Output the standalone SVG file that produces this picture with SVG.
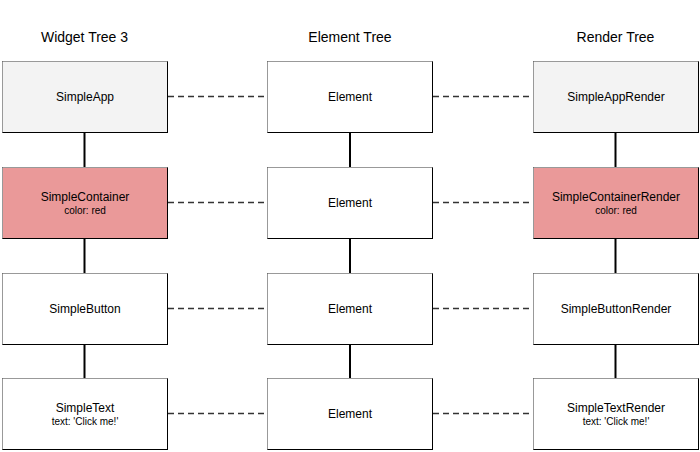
<svg xmlns="http://www.w3.org/2000/svg" width="700" height="452" viewBox="0 0 700 452">
<style>
.box{stroke:#000;stroke-width:1}
.edge{fill:none;stroke:#999;stroke-width:1}
.w{fill:#fff}.g{fill:#f3f3f3}.r{fill:#ea9999}
text{font-family:"Liberation Sans",Arial,sans-serif;fill:#000;text-anchor:middle}
.t{font-size:14px}.m{font-size:12px}.s{font-size:10px}
.solid{stroke:#000;stroke-width:2}
.dash{stroke:#333;stroke-width:1.5;stroke-dasharray:6,4}
</style>
<rect width="700" height="452" fill="#fff"/>
<g id="titles">
<text class="t" x="84.5" y="42">Widget Tree 3</text>
<text class="t" x="350" y="42">Element Tree</text>
<text class="t" x="615.5" y="42">Render Tree</text>
</g>
<g id="connectors">
<line class="solid" x1="84.5" y1="132" x2="84.5" y2="167"/>
<line class="solid" x1="84.5" y1="238" x2="84.5" y2="273"/>
<line class="solid" x1="84.5" y1="344" x2="84.5" y2="378"/>
<line class="solid" x1="350" y1="132" x2="350" y2="167"/>
<line class="solid" x1="350" y1="238" x2="350" y2="273"/>
<line class="solid" x1="350" y1="344" x2="350" y2="378"/>
<line class="solid" x1="615.5" y1="132" x2="615.5" y2="167"/>
<line class="solid" x1="615.5" y1="238" x2="615.5" y2="273"/>
<line class="solid" x1="615.5" y1="344" x2="615.5" y2="378"/>
<line class="dash" x1="168" y1="96.5" x2="267" y2="96.5"/>
<line class="dash" x1="433" y1="96.5" x2="533" y2="96.5"/>
<line class="dash" x1="168" y1="202.5" x2="267" y2="202.5"/>
<line class="dash" x1="433" y1="202.5" x2="533" y2="202.5"/>
<line class="dash" x1="168" y1="308.5" x2="267" y2="308.5"/>
<line class="dash" x1="433" y1="308.5" x2="533" y2="308.5"/>
<line class="dash" x1="168" y1="413.5" x2="267" y2="413.5"/>
<line class="dash" x1="433" y1="413.5" x2="533" y2="413.5"/>
</g>
<g id="simpleapp">
<rect class="box g" x="2.5" y="61.5" width="165" height="71"/>
<path class="edge" d="M2.5,132.5V61.5H167.5"/>
<text class="m" x="85" y="101">SimpleApp</text>
</g>
<g id="element1">
<rect class="box w" x="267.5" y="61.5" width="165" height="71"/>
<path class="edge" d="M267.5,132.5V61.5H432.5"/>
<text class="m" x="350" y="101">Element</text>
</g>
<g id="simpleapprender">
<rect class="box g" x="533.5" y="61.5" width="165" height="71"/>
<path class="edge" d="M533.5,132.5V61.5H698.5"/>
<text class="m" x="616" y="101">SimpleAppRender</text>
</g>
<g id="simplecontainer">
<rect class="box r" x="2.5" y="167.5" width="165" height="71"/>
<path class="edge" d="M2.5,238.5V167.5H167.5"/>
<text class="m" x="85" y="201">SimpleContainer</text>
<text class="s" x="85" y="214">color: red</text>
</g>
<g id="element2">
<rect class="box w" x="267.5" y="167.5" width="165" height="71"/>
<path class="edge" d="M267.5,238.5V167.5H432.5"/>
<text class="m" x="350" y="207">Element</text>
</g>
<g id="simplecontainerrender">
<rect class="box r" x="533.5" y="167.5" width="165" height="71"/>
<path class="edge" d="M533.5,238.5V167.5H698.5"/>
<text class="m" x="616" y="201">SimpleContainerRender</text>
<text class="s" x="616" y="214">color: red</text>
</g>
<g id="simplebutton">
<rect class="box w" x="2.5" y="273.5" width="165" height="71"/>
<path class="edge" d="M2.5,344.5V273.5H167.5"/>
<text class="m" x="85" y="313">SimpleButton</text>
</g>
<g id="element3">
<rect class="box w" x="267.5" y="273.5" width="165" height="71"/>
<path class="edge" d="M267.5,344.5V273.5H432.5"/>
<text class="m" x="350" y="313">Element</text>
</g>
<g id="simplebuttonrender">
<rect class="box w" x="533.5" y="273.5" width="165" height="71"/>
<path class="edge" d="M533.5,344.5V273.5H698.5"/>
<text class="m" x="616" y="313">SimpleButtonRender</text>
</g>
<g id="simpletext">
<rect class="box w" x="2.5" y="378.5" width="165" height="71"/>
<path class="edge" d="M2.5,449.5V378.5H167.5"/>
<text class="m" x="85" y="412">SimpleText</text>
<text class="s" x="85" y="425">text: 'Click me!'</text>
</g>
<g id="element4">
<rect class="box w" x="267.5" y="378.5" width="165" height="71"/>
<path class="edge" d="M267.5,449.5V378.5H432.5"/>
<text class="m" x="350" y="418">Element</text>
</g>
<g id="simpletextrender">
<rect class="box w" x="533.5" y="378.5" width="165" height="71"/>
<path class="edge" d="M533.5,449.5V378.5H698.5"/>
<text class="m" x="616" y="412">SimpleTextRender</text>
<text class="s" x="616" y="425">text: 'Click me!'</text>
</g>
</svg>
